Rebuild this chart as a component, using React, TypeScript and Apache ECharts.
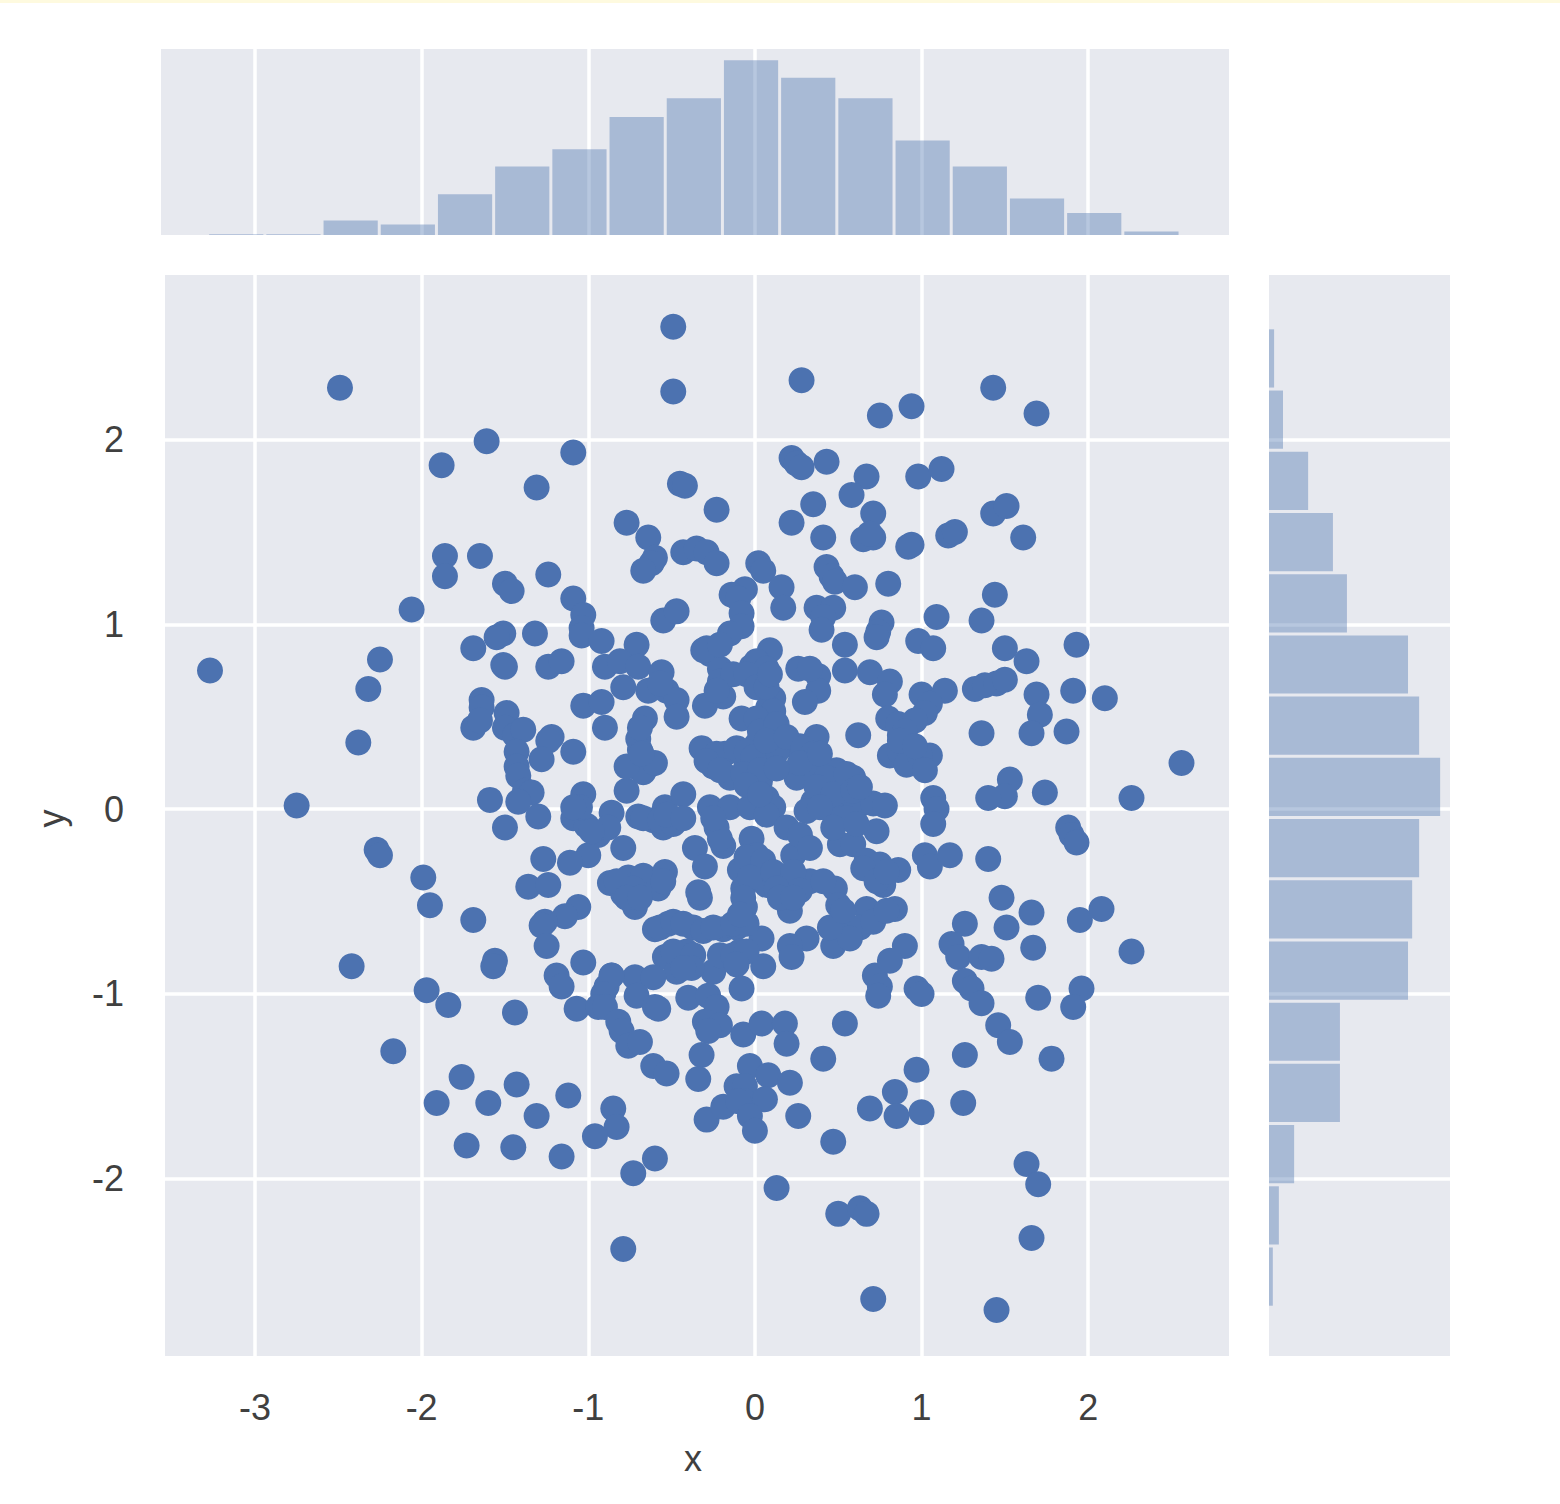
import React, { useEffect, useRef } from "react";
import * as echarts from "echarts";

const tickX = [-3, -2, -1, 0, 1, 2];
const tickY = [-2, -1, 0, 1, 2];

const xBinStart = -3.285;
const xBinWidth = 0.3433;
const xCounts = [0.3, 0.3, 5, 3.6, 14, 23.5, 29.5, 40.5, 47, 60, 54, 47, 32.5, 23.5, 12.5, 7.6, 1.2];

const yBinStart = -2.695;
const yBinWidth = 0.3312;
const yCounts = [1.2, 3.1, 7.9, 22.3, 22.3, 43.7, 45, 47.2, 53.8, 47.2, 43.7, 24.5, 20.1, 12.3, 4.4, 1.6];

const outerPoints: [number, number][] = [
  [-0.49, 2.61], [-2.49, 2.28], [-0.49, 2.26], [0.28, 2.32], [1.43, 2.28], [1.69, 2.14], [0.75, 2.13], [0.94, 2.18],
  [-1.61, 1.99], [-1.09, 1.93], [-1.88, 1.86], [-1.31, 1.74], [-0.45, 1.76], [-0.42, 1.75], [0.22, 1.9], [0.25, 1.87],
  [0.28, 1.85], [0.43, 1.88], [0.67, 1.8], [0.98, 1.8], [1.12, 1.84], [0.58, 1.7], [0.35, 1.65], [0.71, 1.6],
  [-0.23, 1.62], [1.43, 1.6], [1.51, 1.64], [0.22, 1.55], [-0.77, 1.55], [-0.64, 1.47], [0.41, 1.47], [0.65, 1.46],
  [0.71, 1.47], [0.69, 1.49], [0.94, 1.43], [0.92, 1.42], [1.16, 1.48], [1.2, 1.5], [1.61, 1.47], [-1.86, 1.37],
  [-1.86, 1.26], [-1.65, 1.37], [-1.24, 1.27], [-1.5, 1.22], [-1.46, 1.18], [-0.43, 1.39], [-0.35, 1.41], [-0.29, 1.39],
  [-0.23, 1.33], [-0.6, 1.36], [-0.62, 1.33], [-0.67, 1.29], [0.02, 1.33], [0.05, 1.29], [0.43, 1.31], [0.46, 1.26],
  [0.48, 1.23], [0.16, 1.2], [0.6, 1.2], [0.8, 1.22], [0.17, 1.09], [-0.06, 1.19], [-0.14, 1.16], [-0.1, 1.14],
  [1.44, 1.16], [-2.06, 1.08], [-1.09, 1.14], [-1.03, 1.05], [-1.04, 0.98], [-1.04, 0.94], [1.09, 1.04], [1.36, 1.02],
  [0.37, 1.09], [0.47, 1.09], [0.41, 1.04], [0.4, 0.97], [-0.55, 1.02], [-0.47, 1.07], [-0.08, 1.06], [-0.08, 0.99],
  [-0.15, 0.95], [0.76, 1.01], [0.74, 0.96], [0.73, 0.93], [-1.32, 0.95], [-1.51, 0.95], [-1.55, 0.93], [-1.69, 0.87],
  [-0.92, 0.91], [-0.71, 0.89], [0.54, 0.89], [0.98, 0.91], [1.07, 0.87], [1.93, 0.89], [1.5, 0.87], [1.63, 0.8],
  [-2.25, 0.81], [-3.27, 0.75], [-2.32, 0.65], [-1.51, 0.78], [-1.5, 0.77], [-1.24, 0.77], [-1.16, 0.8],
];

const centerLeftPoints: [number, number][] = [
  [-0.9, 0.77], [-0.81, 0.8], [-0.7, 0.77], [-0.56, 0.74], [-0.79, 0.66], [-0.64, 0.64], [-0.53, 0.64], [-0.47, 0.59],
  [-0.47, 0.5], [-1.03, 0.56], [-0.92, 0.58], [-0.9, 0.44], [-0.66, 0.49], [-0.7, 0.38], [-0.69, 0.32], [-0.72, 0.23],
  [-0.63, 0.24], [-0.67, 0.2], [-1.09, 0.31], [-1.03, 0.08], [-0.77, 0.1], [-0.86, -0.02], [-1.09, -0.05], [-1.01, -0.09],
  [-0.94, -0.14], [-0.88, -0.1], [-0.7, -0.04], [-0.61, -0.06], [-0.54, 0.01], [-0.43, 0.08], [-0.47, -0.06], [-0.55, -0.1],
  [-0.79, -0.21], [-1.0, -0.25], [-1.11, -0.29], [-0.87, -0.4], [-0.76, -0.37], [-0.67, -0.36], [-0.54, -0.34], [-0.58, -0.43],
  [-0.72, -0.53], [-0.79, -0.46], [-0.36, -0.21], [-0.3, -0.31], [-0.33, -0.48], [-0.34, -0.45], [-1.06, -0.53], [-1.14, -0.58],
  [-0.6, -0.65], [-0.52, -0.62], [-0.37, -0.64], [-0.54, -0.8], [-0.41, -0.77], [-0.47, -0.88], [-0.25, -0.88], [-0.19, -0.65],
  [-0.11, -0.64], [-0.09, -0.77], [0.04, -0.7], [0.05, -0.85], [-1.03, -0.83], [-0.86, -0.9], [-0.72, -0.91], [-0.61, -0.91],
];

const centerRightPoints: [number, number][] = [
  [-0.29, 0.87], [-0.27, 0.84], [-0.21, 0.76], [-0.21, 0.69], [-0.19, 0.61], [-0.3, 0.56], [0.09, 0.86], [-0.02, 0.77],
  [0.03, 0.71], [0.11, 0.6], [0.08, 0.55], [-0.08, 0.49], [0.26, 0.76], [0.38, 0.72], [0.38, 0.64], [0.3, 0.58],
  [0.54, 0.75], [0.69, 0.74], [0.81, 0.69], [0.78, 0.62], [0.8, 0.49], [0.87, 0.4], [0.81, 0.29], [0.87, 0.31],
  [0.62, 0.4], [0.37, 0.39], [-0.32, 0.33], [-0.18, 0.3], [-0.25, 0.23], [-0.15, 0.17], [-0.05, 0.24], [0.01, 0.35],
  [0.11, 0.42], [0.19, 0.35], [0.27, 0.34], [0.07, 0.26], [0.13, 0.31], [0.25, 0.17], [0.41, 0.22], [0.49, 0.21],
  [0.59, 0.17], [0.03, 0.15], [0.07, 0.06], [0.11, 0.01], [0.35, 0.04], [0.43, 0.1], [0.53, 0.06], [0.47, -0.02],
  [0.61, 0.01], [0.71, 0.03], [0.78, 0.02], [0.73, -0.12], [0.51, -0.19], [0.59, -0.19], [-0.27, 0.01], [-0.15, 0.01],
  [-0.03, 0.01], [0.07, -0.03], [-0.23, -0.1], [-0.19, -0.2], [-0.02, -0.16], [0.01, -0.25], [-0.09, -0.33], [0.03, -0.32],
  [0.19, -0.1], [0.29, -0.19], [0.23, -0.25], [0.67, -0.28], [0.75, -0.3], [0.86, -0.33], [0.77, -0.41], [-0.07, -0.43],
  [0.07, -0.41], [0.19, -0.38], [0.33, -0.39], [0.48, -0.43], [0.5, -0.52], [0.21, -0.55], [-0.06, -0.53], [0.67, -0.54],
  [0.84, -0.54], [0.51, -0.62], [0.63, -0.64], [0.71, -0.61], [0.47, -0.74], [0.57, -0.7], [0.31, -0.7], [0.21, -0.74],
  [0.22, -0.8],
];

const densePoints: [number, number][] = [
  [-0.57, 0.68], [-0.69, 0.44], [-0.77, 0.23], [-0.6, 0.25], [-0.68, 0.3], [-1.05, 0.01], [-1.09, 0.01], [-0.98, -0.12],
  [-0.67, -0.05], [-0.57, -0.06], [-0.49, -0.08], [-0.53, -0.03], [-0.43, -0.05], [-0.83, -0.39], [-0.73, -0.43], [-0.77, -0.48],
  [-0.69, -0.48], [-0.55, -0.39], [-0.57, -0.64], [-0.49, -0.61], [-0.43, -0.62], [-0.31, -0.66], [-0.25, -0.64], [-0.13, -0.62],
  [-0.05, -0.62], [-0.49, -0.77], [-0.37, -0.79], [-0.38, -0.86], [-0.21, -0.79], [-0.13, -0.79], [-0.05, -0.77], [-0.11, -0.84],
  [-0.43, -0.86], [-0.31, 0.86], [-0.21, 0.89], [-0.13, 0.73], [-0.23, 0.64], [0.01, 0.8], [0.07, 0.76], [-0.05, 0.73],
  [0.01, 0.66], [0.07, 0.66], [0.09, 0.73], [0.11, 0.53], [0.01, 0.49], [0.03, 0.42], [0.13, 0.46], [0.33, 0.76],
  [0.86, 0.46], [0.91, 0.37], [0.91, 0.24], [-0.23, 0.3], [-0.11, 0.33], [-0.05, 0.31], [-0.01, 0.28], [0.07, 0.37],
  [0.19, 0.39], [0.29, 0.33], [0.35, 0.3], [0.35, 0.21], [0.27, 0.25], [0.39, 0.3], [-0.29, 0.26], [-0.21, 0.21],
  [-0.07, 0.19], [0.03, 0.21], [-0.05, 0.13], [0.03, 0.08], [0.13, 0.22], [0.43, 0.17], [0.37, 0.12], [0.47, 0.08],
  [0.55, 0.19], [0.59, 0.1], [0.63, 0.12], [0.31, -0.01], [0.39, 0.01], [0.55, -0.05], [0.47, -0.1], [0.61, -0.08],
  [-0.21, -0.16], [-0.25, -0.05], [-0.05, -0.26], [0.05, -0.28], [-0.03, -0.37], [0.11, -0.34], [0.23, -0.34], [0.13, -0.43],
  [0.27, -0.44], [0.41, -0.39], [0.15, -0.48], [0.23, -0.48], [0.27, -0.14], [0.33, -0.21], [0.65, -0.32], [0.73, -0.39],
  [0.79, -0.34], [-0.07, -0.48], [-0.09, -0.57], [0.79, -0.55], [0.45, -0.64], [0.53, -0.55],
];

const leftPoints: [number, number][] = [
  [-1.64, 0.59], [-1.64, 0.55], [-1.69, 0.44], [-1.65, 0.48], [-1.49, 0.52], [-1.5, 0.44], [-1.44, 0.4], [-1.39, 0.43],
  [-1.22, 0.39], [-1.24, 0.37], [-2.38, 0.36], [-1.28, 0.27], [-1.43, 0.31], [-1.43, 0.23], [-1.42, 0.18], [-1.38, 0.1],
  [-1.34, 0.09], [-1.59, 0.05], [-1.42, 0.04], [-2.75, 0.02], [-1.5, -0.1], [-1.3, -0.04], [-2.27, -0.22], [-2.25, -0.25],
  [-1.27, -0.27], [-1.99, -0.37], [-1.36, -0.42], [-1.24, -0.41], [-1.95, -0.52], [-1.69, -0.6], [-1.26, -0.61], [-1.28, -0.63],
  [-1.25, -0.74], [-1.56, -0.82], [-1.57, -0.85], [-2.42, -0.85], [-1.19, -0.9], [-1.16, -0.96], [-1.97, -0.98], [-1.84, -1.06],
  [-1.44, -1.1], [-1.07, -1.08], [-2.17, -1.31], [-1.76, -1.45], [-1.91, -1.59], [-1.6, -1.59], [-1.43, -1.49], [-1.12, -1.55],
  [-1.31, -1.66], [-1.73, -1.82], [-1.45, -1.83], [-1.16, -1.88],
];

const lowerPoints: [number, number][] = [
  [-0.85, -1.62], [-0.83, -1.72], [-0.96, -1.77], [-0.6, -1.89], [-0.73, -1.97], [-0.79, -2.38], [0.13, -2.05], [0.5, -2.19],
  [0.63, -2.16], [0.67, -2.19], [0.71, -2.65], [1.45, -2.71], [1.66, -2.32], [1.63, -1.92], [1.7, -2.03], [-0.89, -0.96],
  [-0.86, -0.9], [-0.91, -1.0], [-0.94, -1.07], [-0.9, -1.07], [-0.82, -1.15], [-0.8, -1.2], [-0.76, -1.28], [-0.69, -1.26],
  [-0.71, -1.01], [-0.6, -1.07], [-0.58, -1.08], [-0.4, -1.02], [-0.28, -1.01], [-0.23, -1.07], [-0.3, -1.15], [-0.21, -1.17],
  [-0.28, -1.2], [-0.08, -0.97], [-0.61, -1.39], [-0.53, -1.43], [-0.32, -1.33], [-0.34, -1.46], [-0.07, -1.22], [0.04, -1.16],
  [0.18, -1.16], [0.19, -1.27], [0.54, -1.16], [0.41, -1.35], [-0.03, -1.39], [-0.11, -1.5], [-0.06, -1.5], [0.08, -1.44],
  [-0.06, -1.58], [0.06, -1.57], [0.21, -1.48], [-0.29, -1.68], [-0.19, -1.61], [-0.1, -1.58], [-0.03, -1.66], [0.0, -1.74],
  [0.26, -1.66], [0.47, -1.8], [0.69, -1.62], [0.84, -1.53], [0.85, -1.66], [1.0, -1.64], [0.97, -1.41], [1.25, -1.59],
  [1.26, -1.33], [0.72, -0.9], [0.75, -0.96], [0.74, -1.01], [0.9, -0.74], [0.81, -0.82],
];

const rightPoints: [number, number][] = [
  [1.32, 0.65], [1.38, 0.67], [1.45, 0.68], [1.5, 0.7], [1.69, 0.62], [1.71, 0.51], [1.66, 0.41], [1.91, 0.64],
  [2.1, 0.6], [1.87, 0.42], [1.0, 0.62], [1.14, 0.64], [1.05, 0.57], [1.02, 0.52], [0.96, 0.48], [0.9, 0.42],
  [0.87, 0.37], [1.36, 0.41], [1.05, 0.29], [0.99, 0.29], [1.02, 0.21], [0.96, 0.34], [2.56, 0.25], [1.53, 0.16],
  [1.5, 0.07], [1.4, 0.06], [1.74, 0.09], [2.26, 0.06], [1.07, 0.06], [1.09, 0.0], [1.07, -0.08], [1.88, -0.1],
  [1.9, -0.14], [1.93, -0.18], [1.02, -0.25], [1.05, -0.31], [1.17, -0.25], [1.4, -0.27], [1.48, -0.48], [1.66, -0.56],
  [1.51, -0.64], [1.95, -0.6], [2.08, -0.54], [1.26, -0.62], [1.67, -0.75], [2.26, -0.77], [1.18, -0.73], [1.22, -0.8],
  [1.36, -0.8], [1.42, -0.81], [1.26, -0.93], [1.3, -0.97], [1.36, -1.05], [0.97, -0.97], [1.0, -1.0], [1.96, -0.97],
  [1.91, -1.07], [1.7, -1.02], [1.46, -1.17], [1.53, -1.26], [1.78, -1.35],
];

const points = [...outerPoints, ...centerLeftPoints, ...centerRightPoints, ...densePoints, ...leftPoints, ...lowerPoints, ...rightPoints];

const FONT = "Liberation Sans";
const TEXT = "#404040";
const BLUE = "#4C72B0";
const BAR = "rgba(76,114,176,0.4)";
const PANEL = "#E7E9EF";

const gridLine = { show: true, lineStyle: { color: "#FFFFFF", width: 3.5 } };
const GAP = 1.5;

export default function App() {
  const ref = useRef<HTMLDivElement>(null);

  useEffect(() => {
    const chart = echarts.init(ref.current!, null, { renderer: "svg" });
    const xBins = xCounts.map((c, i) => [xBinStart + i * xBinWidth, xBinStart + (i + 1) * xBinWidth, c]);
    const yBins = yCounts.map((c, i) => [yBinStart + i * yBinWidth, yBinStart + (i + 1) * yBinWidth, c]);
    const xLim = { min: -3.54, max: 2.845 };
    const yLim = { min: -2.959, max: 2.89 };

    chart.setOption({
      animation: false,
      backgroundColor: "#FFFFFF",
      textStyle: { fontFamily: FONT },
      graphic: [
        { type: "rect", shape: { x: 0, y: 0, width: 1560, height: 3 }, style: { fill: "#FEFADF" } },
      ],
      grid: [
        { left: 165, top: 275, width: 1064, height: 1081, show: true, backgroundColor: PANEL, borderWidth: 0 },
        { left: 161, top: 49, width: 1068, height: 186, show: true, backgroundColor: PANEL, borderWidth: 0 },
        { left: 1269, top: 275, width: 181, height: 1081, show: true, backgroundColor: PANEL, borderWidth: 0 },
      ],
      xAxis: [
        {
          type: "value", gridIndex: 0, ...xLim,
          name: "x", nameLocation: "center", nameGap: 84,
          nameTextStyle: { fontFamily: FONT, fontSize: 36, color: TEXT, padding: [0, 8, 0, 0] },
          axisLine: { show: false },
          axisTick: { show: false, customValues: tickX },
          axisLabel: { customValues: tickX, fontFamily: FONT, fontSize: 36, color: TEXT, margin: 33 },
          splitLine: gridLine,
        },
        {
          type: "value", gridIndex: 1, min: -3.565, max: 2.845,
          axisLine: { show: false },
          axisTick: { show: false, customValues: tickX },
          axisLabel: { show: false, customValues: tickX },
          splitLine: gridLine,
        },
        {
          type: "value", gridIndex: 2, min: 0, max: 56.9,
          axisLine: { show: false }, axisTick: { show: false }, axisLabel: { show: false }, splitLine: { show: false },
        },
      ],
      yAxis: [
        {
          type: "value", gridIndex: 0, ...yLim,
          name: "y", nameLocation: "center", nameGap: 96, nameRotate: 90,
          nameTextStyle: { fontFamily: FONT, fontSize: 36, color: TEXT, padding: [0, 6, 0, 0] },
          axisLine: { show: false },
          axisTick: { show: false, customValues: tickY },
          axisLabel: { customValues: tickY, fontFamily: FONT, fontSize: 36, color: TEXT, margin: 41 },
          splitLine: gridLine,
        },
        {
          type: "value", gridIndex: 1, min: 0, max: 63.9,
          axisLine: { show: false }, axisTick: { show: false }, axisLabel: { show: false }, splitLine: { show: false },
        },
        {
          type: "value", gridIndex: 2, ...yLim,
          axisLine: { show: false },
          axisTick: { show: false, customValues: tickY },
          axisLabel: { show: false, customValues: tickY },
          splitLine: gridLine,
        },
      ],
      series: [
        {
          type: "scatter", xAxisIndex: 0, yAxisIndex: 0, data: points, symbolSize: 26,
          itemStyle: { color: BLUE, opacity: 1 },
        },
        {
          type: "custom", xAxisIndex: 1, yAxisIndex: 1, data: xBins,
          encode: { x: [0, 1], y: 2 },
          renderItem: (_: any, api: any) => {
            const a = api.coord([api.value(0), 0]);
            const b = api.coord([api.value(1), api.value(2)]);
            return {
              type: "rect",
              shape: { x: a[0] + GAP, y: b[1], width: b[0] - a[0] - 2 * GAP, height: a[1] - b[1] },
              style: { fill: BAR },
            };
          },
        },
        {
          type: "custom", xAxisIndex: 2, yAxisIndex: 2, data: yBins,
          encode: { y: [0, 1], x: 2 },
          renderItem: (_: any, api: any) => {
            const a = api.coord([0, api.value(0)]);
            const b = api.coord([api.value(2), api.value(1)]);
            return {
              type: "rect",
              shape: { x: a[0], y: b[1] + GAP, width: b[0] - a[0], height: a[1] - b[1] - 2 * GAP },
              style: { fill: BAR },
            };
          },
        },
      ],
    });
    return () => chart.dispose();
  }, []);

  return <div ref={ref} style={{ position: "absolute", left: 0, top: 0, width: 1560, height: 1504 }} />;
}
